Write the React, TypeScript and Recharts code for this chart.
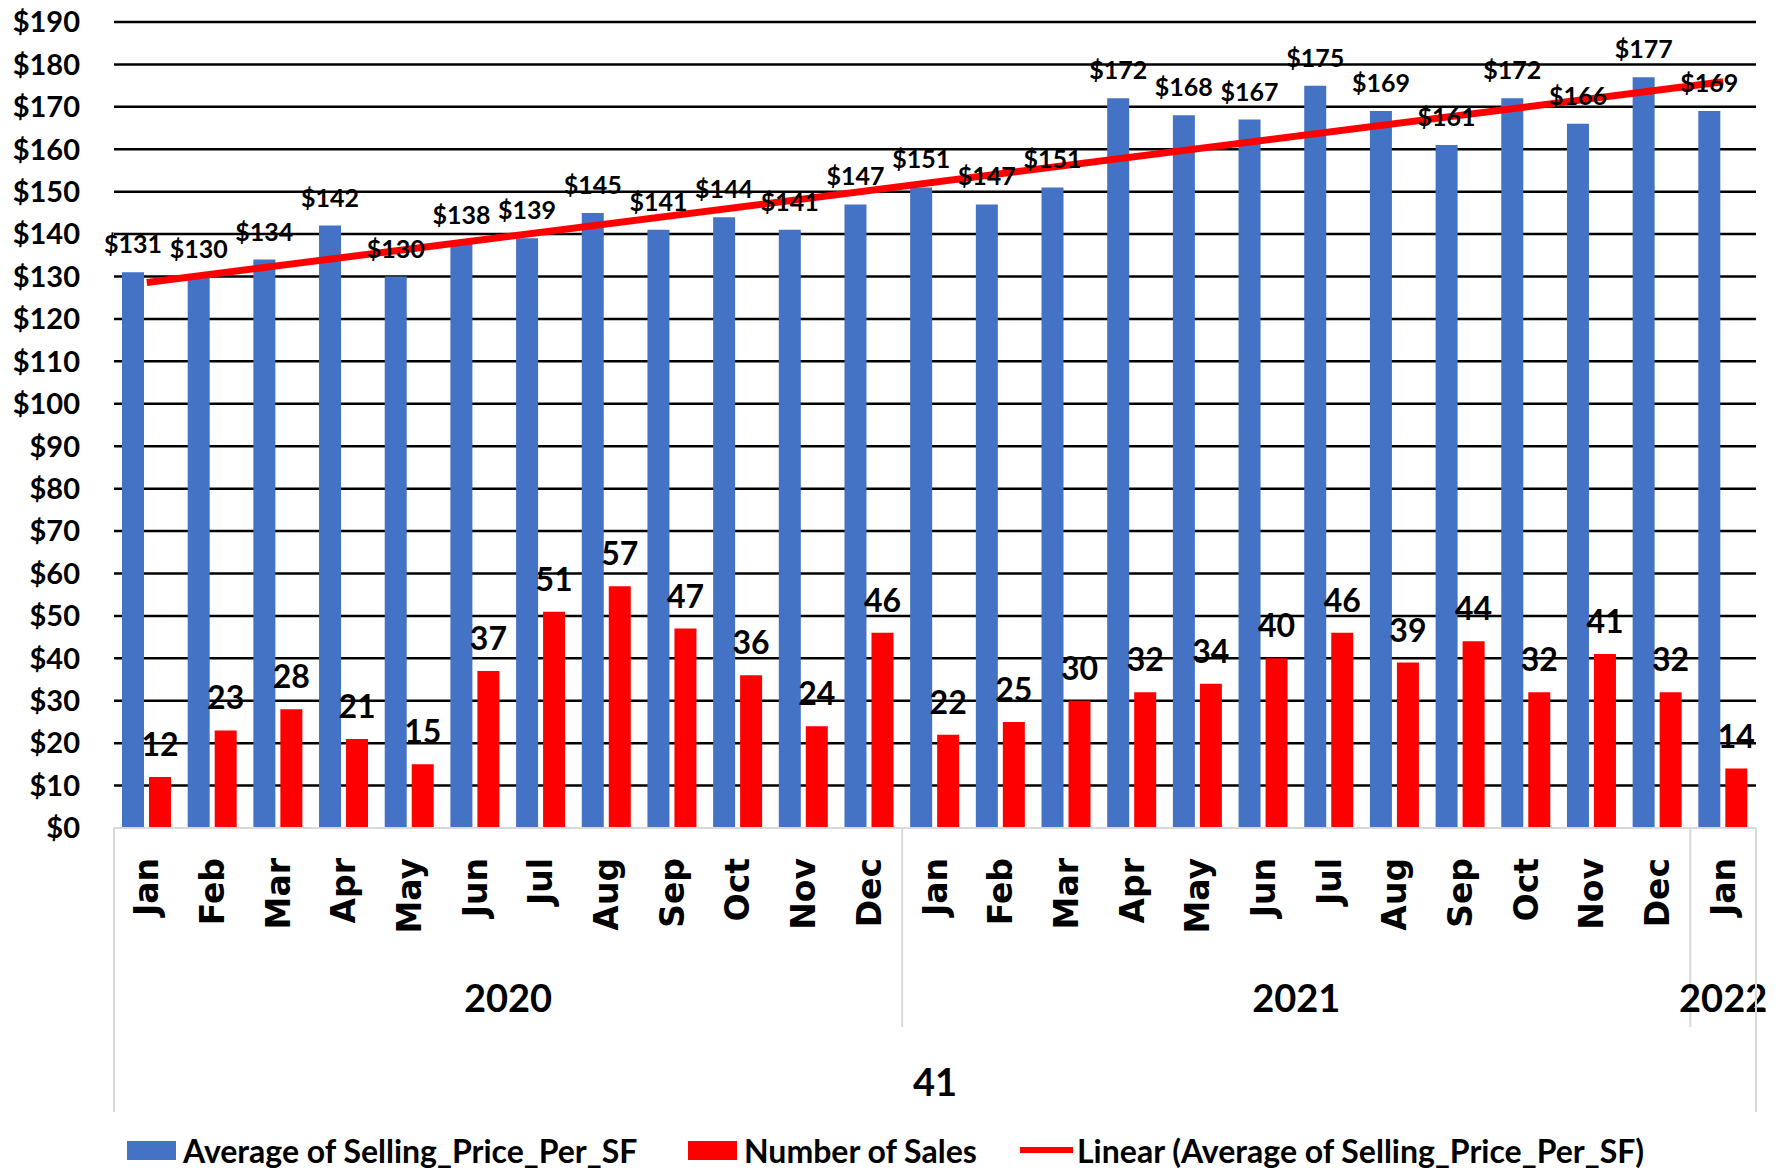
import React from 'react';
import { ComposedChart, Bar, Line, XAxis, YAxis, CartesianGrid, Legend, LabelList } from 'recharts';

const months = [
  'Jan', 'Feb', 'Mar', 'Apr', 'May', 'Jun', 'Jul', 'Aug', 'Sep', 'Oct', 'Nov', 'Dec',
  'Jan', 'Feb', 'Mar', 'Apr', 'May', 'Jun', 'Jul', 'Aug', 'Sep', 'Oct', 'Nov', 'Dec',
  'Jan',
];
const yearGroups = [
  { year: '2020', count: 12 },
  { year: '2021', count: 12 },
  { year: '2022', count: 1 },
];
const totalLabel = '41';
const avgPrice = [131, 130, 134, 142, 130, 138, 139, 145, 141, 144, 141, 147, 151, 147, 151, 172, 168, 167, 175, 169, 161, 172, 166, 177, 169];
const salesCount = [12, 23, 28, 21, 15, 37, 51, 57, 47, 36, 24, 46, 22, 25, 30, 32, 34, 40, 46, 39, 44, 32, 41, 32, 14];
// trendline end points
const trendStart = 128.6;
const trendEnd = 175.9;
const yTicks = [0, 10, 20, 30, 40, 50, 60, 70, 80, 90, 100, 110, 120, 130, 140, 150, 160, 170, 180, 190];
const legendItems = [
  { label: 'Average of Selling_Price_Per_SF', color: '#4472C4', kind: 'rect', left: 127 },
  { label: 'Number of Sales', color: '#FF0000', kind: 'rect', left: 688 },
  { label: 'Linear (Average of Selling_Price_Per_SF)', color: '#FF0000', kind: 'line', left: 1020 },
];

const BLUE = '#4472C4';
const RED = '#FF0000';
const AXIS_GRAY = '#D9D9D9';
const LATO = "Lato, 'Open Sans', sans-serif";
const W = 1770;
const H = 1170;
const MARGIN = { top: 22, right: 22, left: 0, bottom: 0 };
const Y_W = 106;
const BAND = (W - MARGIN.left - MARGIN.right - Y_W) / months.length;

const data = months.map((m, i) => ({
  key: String(i),
  month: m,
  price: avgPrice[i],
  sales: salesCount[i],
  trend: i === 0 ? trendStart : i === months.length - 1 ? trendEnd : null,
}));

const groupAt: Record<number, { year: string; count: number }> = {};
yearGroups.reduce((start, g) => {
  groupAt[start] = g;
  return start + g.count;
}, 0);

function CategoryTick(props: any) {
  const { x, y, index } = props;
  const left = x - BAND / 2;
  const group = groupAt[index];
  const last = index === months.length - 1;
  return (
    <g>
      <text
        transform={`translate(${x},${y + 30}) rotate(-90)`}
        textAnchor="end"
        dominantBaseline="central"
        fontFamily="'DejaVu Sans', Verdana, sans-serif"
        fontWeight="bold"
        fontSize={33}
        fill="#000"
      >
        {months[index]}
      </text>
      {group && (
        <g>
          <line x1={left} x2={left} y1={y} y2={index === 0 ? y + 284 : y + 199} stroke={AXIS_GRAY} strokeWidth={2} />
          <text
            x={left + (group.count * BAND) / 2}
            y={y + 169}
            textAnchor="middle"
            dominantBaseline="central"
            fontFamily={LATO}
            fontWeight="bold"
            fontSize={38}
            fill="#000"
          >
            {group.year}
          </text>
        </g>
      )}
      {last && <line x1={x + BAND / 2} x2={x + BAND / 2} y1={y} y2={y + 284} stroke={AXIS_GRAY} strokeWidth={2} />}
      {index === 0 && (
        <text
          x={left + (months.length * BAND) / 2}
          y={y + 253}
          textAnchor="middle"
          dominantBaseline="central"
          fontFamily={LATO}
          fontWeight="bold"
          fontSize={38}
          fill="#000"
        >
          {totalLabel}
        </text>
      )}
    </g>
  );
}

function LegendContent() {
  return (
    <div
      style={{
        position: 'relative',
        height: 40,
        fontFamily: LATO,
        fontWeight: 700,
        fontSize: 32,
        color: '#000',
        whiteSpace: 'nowrap',
      }}
    >
      {legendItems.map((it) => (
        <div
          key={it.label}
          style={{ position: 'absolute', left: it.left - 8, top: 0, height: 40, display: 'flex', alignItems: 'center' }}
        >
          {it.kind === 'rect' ? (
            <span style={{ display: 'inline-block', width: 49, height: 19, background: it.color, marginRight: 7 }} />
          ) : (
            <span style={{ display: 'inline-block', width: 53, height: 6, background: it.color, marginRight: 4 }} />
          )}
          <span>{it.label}</span>
        </div>
      ))}
    </div>
  );
}

const tickStyle = { fontFamily: LATO, fontWeight: 700, fontSize: 29, fill: '#000' };
const priceLabelStyle = { fontFamily: LATO, fontWeight: 700, fontSize: 25, fill: '#000' };
const salesLabelStyle = { fontFamily: LATO, fontWeight: 700, fontSize: 32, fill: '#000' };

export default function App() {
  return (
    <div style={{ marginTop: -8, position: 'relative' }}>
      <ComposedChart width={W} height={H} data={data} margin={MARGIN} barGap={5}>
        <CartesianGrid
          xAxisId="main"
          vertical={false}
          horizontalValues={yTicks.filter((v) => v > 0)}
          stroke="#000"
          strokeWidth={2.5}
        />
        <XAxis
          xAxisId="main"
          dataKey="key"
          interval={0}
          height={302}
          tickSize={0}
          tickMargin={0}
          tickLine={false}
          axisLine={{ stroke: AXIS_GRAY, strokeWidth: 2 }}
          tick={<CategoryTick />}
        />
        <XAxis xAxisId="lbl" dataKey="key" height={0} hide />
        <YAxis
          width={Y_W}
          domain={[0, 190]}
          ticks={yTicks}
          interval={0}
          axisLine={false}
          tickLine={false}
          tickSize={0}
          tickMargin={34}
          tick={tickStyle}
          tickFormatter={(v) => `$${v}`}
        />
        <Legend verticalAlign="bottom" content={<LegendContent />} wrapperStyle={{ left: 0, bottom: 0, width: W, height: 40 }} />
        <Bar xAxisId="main" dataKey="price" fill={BLUE} barSize={22} isAnimationActive={false} />
        <Bar xAxisId="main" dataKey="sales" fill={RED} barSize={22} isAnimationActive={false} />
        <Line
          xAxisId="main"
          dataKey="trend"
          stroke={RED}
          strokeWidth={7}
          dot={false}
          connectNulls
          isAnimationActive={false}
        />
        {/* transparent copies on a hidden axis so the labels sit above the trendline */}
        <Bar xAxisId="lbl" dataKey="price" fill="none" barSize={22} isAnimationActive={false} legendType="none">
          <LabelList dataKey="price" position="top" offset={19} formatter={(v: any) => `$${v}`} style={priceLabelStyle} />
        </Bar>
        <Bar xAxisId="lbl" dataKey="sales" fill="none" barSize={22} isAnimationActive={false} legendType="none">
          <LabelList dataKey="sales" position="top" offset={21} style={salesLabelStyle} />
        </Bar>
      </ComposedChart>
      {/* faint frame edge seen at the right of the original */}
      <div style={{ position: 'absolute', left: 1775, top: 0, width: 2, height: H, background: AXIS_GRAY }} />
    </div>
  );
}
